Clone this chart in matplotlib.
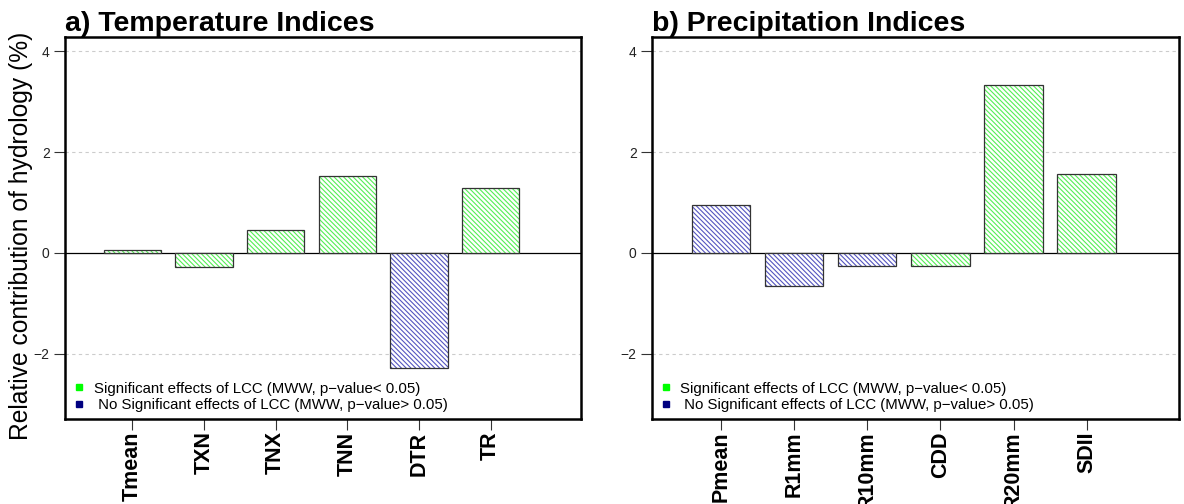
import matplotlib
matplotlib.use('Agg')
import matplotlib.pyplot as plt
from matplotlib.lines import Line2D

plt.rcParams['font.family'] = ['Liberation Sans', 'DejaVu Sans']
plt.rcParams['hatch.linewidth'] = 0.8

# ── 数据 ────────────────────────────────────────────────
temp_names = ['Tmean', 'TXN', 'TNX', 'TNN', 'DTR', 'TR']
temp_vals = [0.05, -0.28, 0.46, 1.52, -2.28, 1.29]
temp_sig = [True, True, True, True, False, True]

prec_names = ['Pmean', 'R1mm', 'R10mm', 'CDD', 'R20mm', 'SDII']
prec_vals = [0.95, -0.65, -0.26, -0.26, 3.33, 1.56]
prec_sig = [False, False, False, True, True, True]

yticks = [-2, 0, 2, 4]

GREEN = '#55ee55'
BLUE = '#5555c0'
HATCH = '\\' * 7


def draw_panel(ax, names, vals, sig, title):
    x = list(range(len(names)))
    cols = [GREEN if s else BLUE for s in sig]
    for g in yticks:
        if g == 0:
            continue
        ax.axhline(g, color='#cccccc', linestyle=(0, (3, 3)), linewidth=0.8, zorder=0)
    ax.axhline(0, color='black', linewidth=0.9, zorder=1)
    # 斜线填充
    for xi, v, c in zip(x, vals, cols):
        ax.bar(xi, v, width=0.8, color='white', edgecolor=c, hatch=HATCH,
               linewidth=0, zorder=2)
    # 边框
    ax.bar(x, vals, width=0.8, facecolor='none', edgecolor='#333333',
           linewidth=0.9, zorder=3)

    ax.set_xlim(-0.94, len(names) - 1 + 1.26)
    ax.set_ylim(-3.29, 4.28)
    ax.set_yticks(yticks)
    ax.set_yticklabels(['\u22122', '0', '2', '4'], fontsize=10, color='#222222')
    ax.set_xticks(x)
    ax.set_xticklabels(names, rotation=90, fontsize=15.5, fontweight='bold',
                       va='top', ha='center')
    ax.tick_params(axis='both', length=8, width=0.8, color='#333333')
    ax.tick_params(axis='x', pad=1)
    ax.tick_params(axis='y', pad=3)
    for s in ax.spines.values():
        s.set_linewidth(1.8)
    ax.set_title(title, loc='left', fontsize=20.5, fontweight='bold', pad=2)

    handles = [
        Line2D([], [], marker='s', linestyle='none', markersize=5,
               color='#00ff00', label='Significant effects of LCC (MWW, p\u2212value< 0.05)'),
        Line2D([], [], marker='s', linestyle='none', markersize=5,
               color='#000080', label=' No Significant effects of LCC (MWW, p\u2212value> 0.05)'),
    ]
    ax.legend(handles=handles, loc='lower left', frameon=False, fontsize=10.8,
              handlelength=0.6, handletextpad=0.7, borderaxespad=0.2,
              labelspacing=0.15, bbox_to_anchor=(0.0, -0.005))


fig = plt.figure(figsize=(11.84, 5.04), dpi=100)
ax1 = fig.add_axes([65 / 1184, 1 - 419 / 504, 516 / 1184, 382 / 504])
ax2 = fig.add_axes([652 / 1184, 1 - 419 / 504, 527 / 1184, 382 / 504])

draw_panel(ax1, temp_names, temp_vals, temp_sig, 'a) Temperature Indices')
draw_panel(ax2, prec_names, prec_vals, prec_sig, 'b) Precipitation Indices')

ax1.set_ylabel('Relative contribution of hydrology (%)', fontsize=17.7)
ax1.yaxis.set_label_coords(-0.062, 0.48)

fig.savefig('out.png', dpi=100)
